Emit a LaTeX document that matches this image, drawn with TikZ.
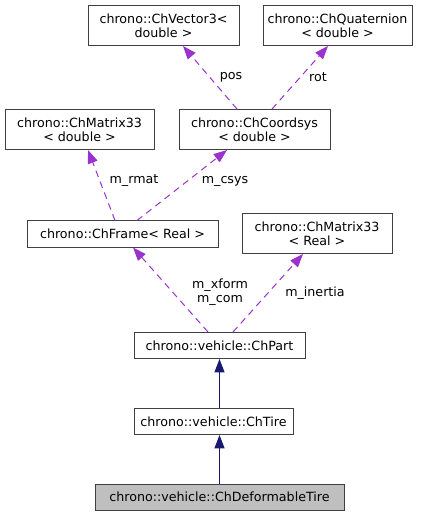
\documentclass[tikz,border=0pt]{standalone}
\usepackage{fontspec}
\setmainfont{DejaVu Sans}
\usetikzlibrary{arrows.meta}
\newdimen\pxu
\pxu=0.75pt

\begin{document}
\begin{tikzpicture}[x=0.75pt, y=-0.75pt,
        box/.style={draw=boxgray, fill=white, line width=0.75pt, inner sep=0pt,
            align=center, font=\fontsize{9.5}{10.5}\selectfont},
        onerow/.style={box, minimum height=26\pxu},
        tworow/.style={box, minimum height=40\pxu},
        lbl/.style={inner sep=0pt, align=center, font=\fontsize{9.5}{10.5}\selectfont},
        usage/.style={draw=orchid, line width=0.75pt, dash pattern=on 5pt off 3.75pt,
            -{Triangle[length=10pt, width=7.5pt]}},
        inherit/.style={draw=navyline, line width=0.75pt,
            -{Triangle[length=10pt, width=7.5pt]}}]
            \definecolor{boxgray}{RGB}{64,64,64}
            \definecolor{orchid}{RGB}{154,50,205}
            \definecolor{navyline}{RGB}{25,25,112}
            \definecolor{focusgray}{RGB}{191,191,191}
            \useasboundingbox (0,0) rectangle (432,516);

            \node[tworow, minimum width=151\pxu] (vec) at (163.5,25.5) {chrono::ChVector3<\\double >};
            \node[tworow, minimum width=149\pxu] (quat) at (337.5,25.5) {chrono::ChQuaternion\\< double >};
            \node[tworow, minimum width=149\pxu] (matd) at (79.5,129.5) {chrono::ChMatrix33\\< double >};
            \node[tworow, minimum width=151\pxu] (csys) at (254.5,129.5) {chrono::ChCoordsys\\< double >};
            \node[onerow, minimum width=191\pxu] (frame) at (122.5,234) {chrono::ChFrame< Real >};
            \node[tworow, minimum width=150\pxu] (matr) at (317,233.5) {chrono::ChMatrix33\\< Real >};
            \node[onerow, minimum width=171\pxu] (part) at (219.5,345.5) {chrono::vehicle::ChPart};
            \node[onerow, minimum width=159\pxu] (tire) at (213.5,421.5) {chrono::vehicle::ChTire};
            \node[onerow, minimum width=249\pxu, fill=focusgray] (dtire) at (219.5,497) {chrono::vehicle::ChDeformableTire};

            \draw[usage] ([xshift=-13.125pt]csys.north) -- ([xshift=14.625pt]vec.south);
            \draw[usage] ([xshift=13.125pt]csys.north) -- ([xshift=-7.125pt]quat.south);
            \draw[usage] ([xshift=-5.625pt]frame.north) -- ([xshift=6.375pt]matd.south);
            \draw[usage] ([xshift=10.875pt]frame.north) -- ([xshift=-20.625pt]csys.south);
            \draw[usage] ([xshift=-8.625pt]part.north) -- ([xshift=7.875pt]frame.south);
            \draw[usage] ([xshift=10.125pt]part.north) -- ([xshift=-10.5pt]matr.south);
            \draw[inherit] (tire.north -| part) -- (part.south);
            \draw[inherit] (dtire.north) -- (dtire.north |- tire.south);

            \node[lbl] (lpos) at (231,77) {pos};
            \node[lbl] (lrot) at (318,77) {rot};
            \node[lbl] (lrmat) at (134,181) {m\_rmat};
            \node[lbl] (lcsys) at (225,181) {m\_csys};
            \node[lbl] (lxform) at (220,292) {m\_xform\\m\_com};
            \node[lbl] (linertia) at (315,293) {m\_inertia};
        \end{tikzpicture}
\end{document}
